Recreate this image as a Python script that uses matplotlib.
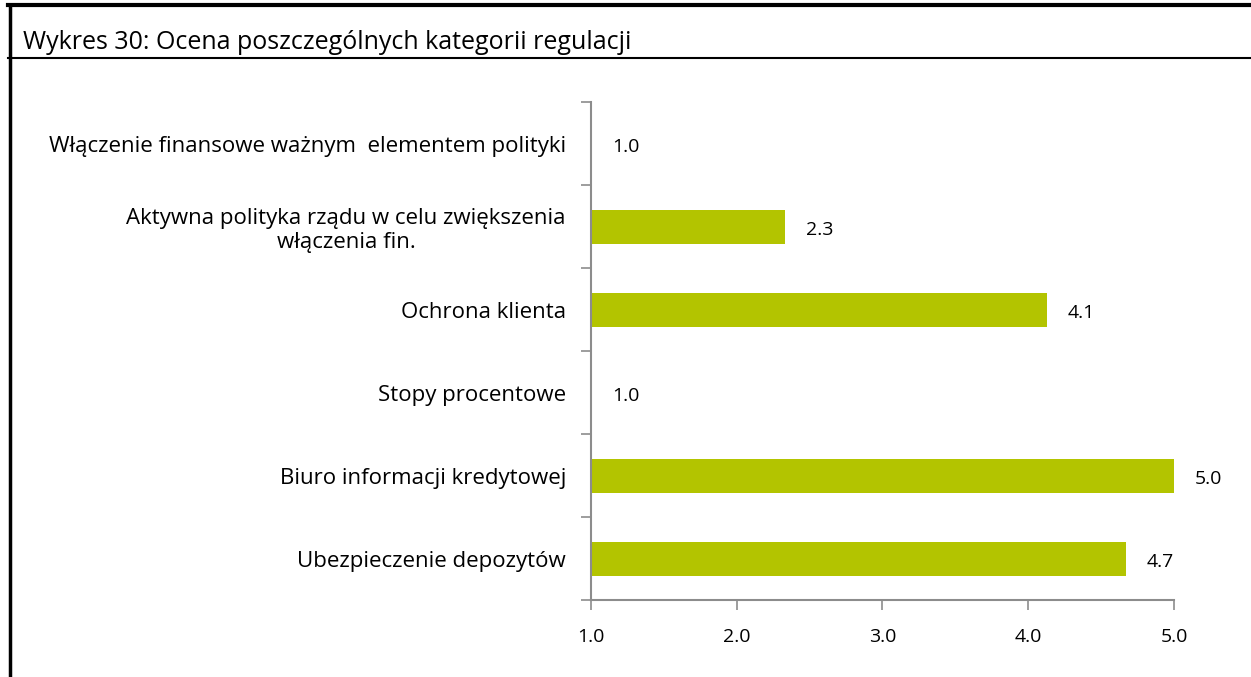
import matplotlib
matplotlib.use("Agg")
import matplotlib.pyplot as plt
from matplotlib.ticker import FixedLocator

plt.rcParams['font.family'] = ['Open Sans', 'DejaVu Sans']

# data (top to bottom as in the chart)
categories = ["Włączenie finansowe ważnym  elementem polityki",
              "Aktywna polityka rządu w celu zwiększenia\nwłączenia fin.",
              "Ochrona klienta",
              "Stopy procentowe",
              "Biuro informacji kredytowej",
              "Ubezpieczenie depozytów"]
values = [1.0, 2.33, 4.13, 1.0, 5.0, 4.67]
xticks = [1.0, 2.0, 3.0, 4.0, 5.0]

bar_color = "#b3c400"
axis_color = "#8c8c8c"

fig = plt.figure(figsize=(12.51, 6.77), dpi=100)

# frame lines of the chart box
fig.add_artist(plt.Line2D([0.0080, 0.0080], [0, 0.992], color="black", lw=2.5, transform=fig.transFigure))
fig.add_artist(plt.Line2D([0.0065, 1.0], [0.992, 0.992], color="black", lw=3, transform=fig.transFigure))
fig.add_artist(plt.Line2D([0.0065, 1.0], [0.9143, 0.9143], color="black", lw=1.5, transform=fig.transFigure))
fig.text(0.018, 0.937, "Wykres 30: Ocena poszczególnych kategorii regulacji",
         fontsize=18, va="center", ha="left")

ax = fig.add_axes([0.4724, 0.1137, 0.4660, 0.7356])

n = len(categories)
ypos = list(range(n - 1, -1, -1))
ax.barh(ypos, values, height=0.41, color=bar_color, left=0)

for y, v in zip(ypos, values):
    ax.annotate("%.1f" % v, xy=(v, y), xytext=(15, -2.5), textcoords="offset points",
                va="center", ha="left", fontsize=14)

ax.set_xlim(1.0, 5.0)
ax.set_ylim(-0.5, n - 0.5)
ax.set_xticks(xticks)
ax.set_xticklabels(["%.1f" % t for t in xticks], fontsize=14)
ax.set_yticks(ypos)
ax.set_yticklabels(categories, fontsize=16, ha="right", multialignment="center")
ax.yaxis.set_minor_locator(FixedLocator([i - 0.5 for i in range(n + 1)]))
ax.tick_params(axis="y", which="major", length=0, pad=18)
ax.tick_params(axis="y", which="minor", length=7, color=axis_color, width=1.2)
ax.tick_params(axis="x", length=7, color=axis_color, width=1.2, pad=13)

for s in ["top", "right"]:
    ax.spines[s].set_visible(False)
for s in ["left", "bottom"]:
    ax.spines[s].set_color(axis_color)
    ax.spines[s].set_linewidth(1.5)

fig.savefig("out.png", dpi=100)
